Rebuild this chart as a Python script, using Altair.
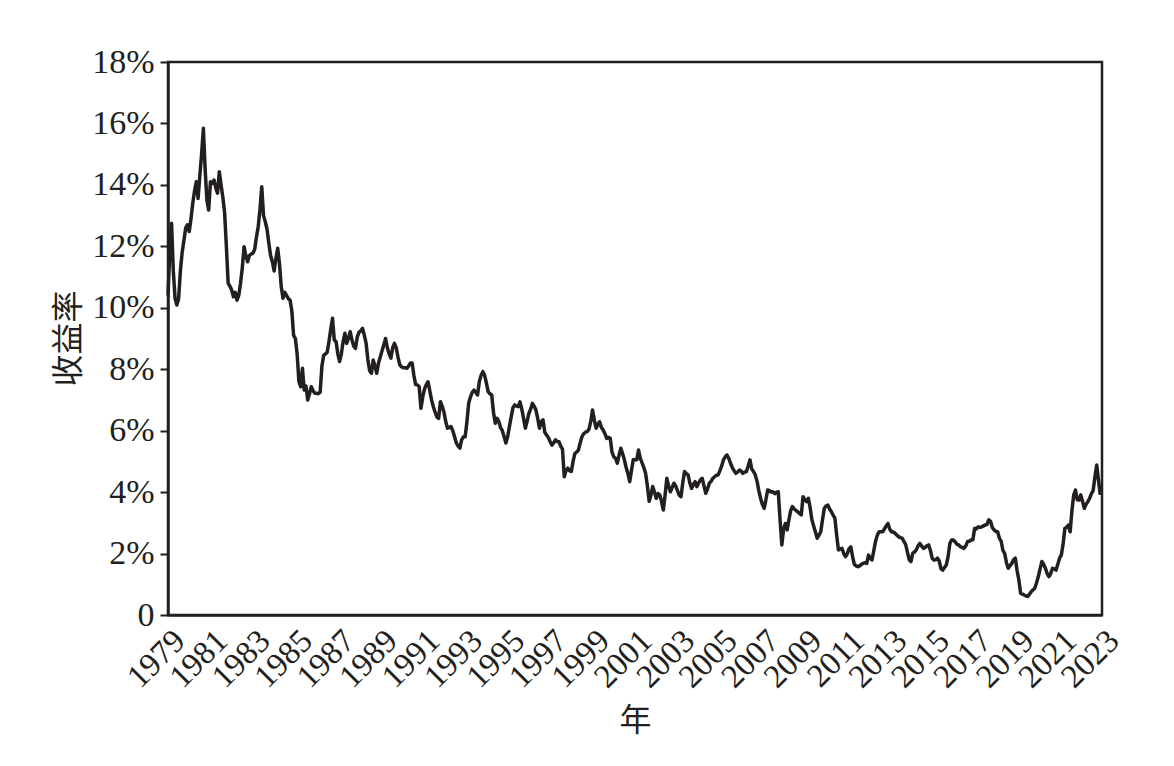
import altair as alt
import pandas as pd

# monthly yield values (%), 4 axis-years per list
yields_1979_1982 = [
    10.4, 11.8, 12.75, 11.2, 10.3, 10.09, 10.3, 11.2, 11.8, 12.2, 12.6, 12.7,
    12.48, 12.9, 13.4, 13.8, 14.1, 13.56, 14.3, 15.0, 15.84, 14.5, 13.5, 13.18,
    14.1, 14.05, 14.16, 13.9, 13.73, 14.43, 14.0, 13.6, 13.1, 12.0, 10.8, 10.7,
    10.58, 10.36, 10.5, 10.25, 10.4, 10.8, 11.3, 11.99, 11.7, 11.5, 11.7, 11.75,
]
yields_1983_1986 = [
    11.77, 11.9, 12.3, 12.64, 13.2, 13.94, 13.0, 12.8, 12.55, 12.1, 11.7, 11.5,
    11.2, 11.6, 11.94, 11.45, 10.7, 10.31, 10.5, 10.4, 10.3, 10.25, 9.9, 9.1,
    9.0, 8.5, 7.6, 7.43, 8.03, 7.32, 7.45, 7.0, 7.2, 7.43, 7.3, 7.22,
    7.22, 7.2, 7.25, 8.1, 8.45, 8.5, 8.55, 8.9, 9.3, 9.66, 8.95, 8.9,
]
yields_1987_1990 = [
    8.5, 8.25, 8.5, 8.9, 9.17, 8.84, 9.0, 9.22, 8.95, 8.75, 8.68, 9.05,
    9.2, 9.25, 9.33, 9.1, 8.84, 8.3, 7.95, 7.87, 8.3, 8.1, 7.87, 8.2,
    8.4, 8.6, 8.8, 9.0, 8.7, 8.5, 8.36, 8.7, 8.84, 8.7, 8.4, 8.15,
    8.08, 8.05, 8.05, 8.03, 8.1, 8.2, 8.2, 7.8, 7.5, 7.49, 7.43, 6.73,
]
yields_1991_1994 = [
    7.1, 7.35, 7.5, 7.59, 7.3, 7.0, 6.78, 6.6, 6.45, 6.4, 6.94, 6.8,
    6.6, 6.3, 6.08, 6.1, 6.13, 6.0, 5.8, 5.6, 5.5, 5.43, 5.7, 5.8,
    5.8, 6.3, 6.9, 7.1, 7.25, 7.32, 7.25, 7.16, 7.6, 7.8, 7.92, 7.8,
    7.55, 7.27, 7.2, 7.16, 6.6, 6.24, 6.4, 6.3, 6.1, 6.0, 5.8, 5.6,
]
yields_1995_1998 = [
    5.8, 6.13, 6.45, 6.75, 6.84, 6.8, 6.78, 6.94, 6.7, 6.4, 6.08, 6.3,
    6.56, 6.7, 6.89, 6.8, 6.67, 6.4, 6.08, 6.3, 6.35, 5.95, 5.86, 5.78,
    5.65, 5.53, 5.6, 5.7, 5.65, 5.64, 5.5, 5.4, 4.5, 4.7, 4.78, 4.7,
    4.67, 5.0, 5.26, 5.3, 5.37, 5.6, 5.8, 5.9, 5.95, 5.97, 6.05, 6.3,
]
yields_1999_2002 = [
    6.67, 6.35, 6.08, 6.2, 6.29, 6.1, 6.02, 5.9, 5.75, 5.78, 5.75, 5.3,
    5.15, 5.1, 4.94, 5.2, 5.43, 5.25, 5.05, 4.8, 4.6, 4.34, 4.7, 5.05,
    5.05, 5.05, 5.37, 5.1, 4.95, 4.8, 4.61, 4.2, 3.7, 3.9, 4.18, 4.0,
    3.8, 3.95, 3.91, 3.7, 3.42, 3.9, 4.45, 4.2, 4.01, 4.15, 4.29, 4.2,
]
yields_2003_2006 = [
    4.05, 3.9, 3.85, 4.3, 4.67, 4.6, 4.56, 4.3, 4.12, 4.25, 4.34, 4.18,
    4.3, 4.4, 4.45, 4.2, 3.96, 4.1, 4.29, 4.35, 4.45, 4.5, 4.55, 4.56,
    4.7, 4.85, 5.05, 5.15, 5.21, 5.1, 4.94, 4.8, 4.7, 4.61, 4.65, 4.72,
    4.68, 4.61, 4.65, 4.67, 4.85, 5.05, 4.75, 4.67, 4.56, 4.35, 4.05, 3.8,
]
yields_2007_2010 = [
    3.6, 3.47, 3.75, 4.07, 4.05, 4.0, 4.01, 3.95, 4.0, 4.01, 3.1, 2.28,
    2.8, 2.98, 2.77, 3.1, 3.4, 3.53, 3.45, 3.4, 3.36, 3.3, 3.26, 3.85,
    3.75, 3.69, 3.8, 3.5, 3.1, 2.9, 2.7, 2.5, 2.6, 2.71, 3.1, 3.47,
    3.55, 3.58, 3.45, 3.36, 3.25, 3.15, 2.6, 2.12, 2.15, 2.17, 2.0, 1.9,
]
yields_2011_2014 = [
    2.0, 2.15, 2.22, 1.9, 1.65, 1.6, 1.57, 1.6, 1.65, 1.68, 1.7, 1.68,
    1.95, 1.85, 1.79, 2.1, 2.4, 2.6, 2.71, 2.71, 2.71, 2.8, 2.9, 2.98,
    2.8, 2.71, 2.7, 2.66, 2.6, 2.55, 2.52, 2.5, 2.4, 2.3, 2.05, 1.8,
    1.74, 2.01, 2.05, 2.12, 2.25, 2.33, 2.25, 2.17, 2.2, 2.25, 2.28, 2.1,
]
yields_2015_2018 = [
    1.85, 1.79, 1.8, 1.85, 1.75, 1.5, 1.46, 1.55, 1.63, 1.9, 2.33, 2.44,
    2.44, 2.38, 2.3, 2.28, 2.22, 2.2, 2.17, 2.25, 2.39, 2.4, 2.44, 2.45,
    2.82, 2.8, 2.87, 2.85, 2.87, 2.9, 2.93, 2.95, 3.1, 3.05, 2.85, 2.77,
    2.72, 2.71, 2.5, 2.4, 2.1, 2.0, 1.7, 1.52, 1.6, 1.68, 1.8, 1.85,
]
yields_2019_2022 = [
    1.45, 1.14, 0.71, 0.68, 0.65, 0.62, 0.6, 0.68, 0.76, 0.82, 0.87, 1.05,
    1.25, 1.5, 1.74, 1.65, 1.52, 1.35, 1.25, 1.35, 1.52, 1.5, 1.46, 1.65,
    1.85, 1.95, 2.3, 2.82, 2.85, 2.93, 2.71, 3.4, 3.9, 4.07, 3.75, 3.74,
    3.91, 3.7, 3.47, 3.6, 3.69, 3.8, 3.95, 4.05, 4.5, 4.88, 4.4, 3.91,
]

start_year = 1979
x_tick_years = list(range(1979, 2024, 2))
y_tick_values = [0, 2, 4, 6, 8, 10, 12, 14, 16, 18]

yields = (yields_1979_1982 + yields_1983_1986 + yields_1987_1990 + yields_1991_1994
          + yields_1995_1998 + yields_1999_2002 + yields_2003_2006 + yields_2007_2010
          + yields_2011_2014 + yields_2015_2018 + yields_2019_2022)
df = pd.DataFrame({
    "t": [start_year + i / 12 for i in range(len(yields))],
    "y": yields,
})

INK = "#231f20"
FONT = "Liberation Serif, Noto Sans CJK SC"

chart = alt.Chart(df).mark_line(color=INK, strokeWidth=3.5, strokeJoin="round").encode(
    x=alt.X(
        "t:Q",
        scale=alt.Scale(domain=[1979, 2023], nice=False, zero=False),
        axis=alt.Axis(
            values=x_tick_years, format="d", labelAngle=-45, labelAlign="right",
            labelBaseline="top", labelPadding=9, labelOverlap=False, labelBound=False,
            labelFlush=False, labelFontSize=33, ticks=False, grid=False, title="年",
            titleX=467, titleY=105, titleAlign="center", titleBaseline="middle",
        ),
    ),
    y=alt.Y(
        "y:Q",
        scale=alt.Scale(domain=[0, 18], nice=False),
        axis=alt.Axis(
            values=y_tick_values,
            labelExpr="datum.value == 0 ? '0' : datum.value + '%'",
            tickSize=8, tickWidth=2, labelPadding=6, labelFontSize=34, grid=False,
            title="收益率", titleAngle=-90, titleX=-100, titleY=276, titleAlign="center",
            titleBaseline="middle", labelOverlap=False, labelFlush=False,
        ),
    ),
).properties(
    width=934, height=553,
    autosize="none",
    padding={"left": 160, "top": 54, "right": 40, "bottom": 150},
).configure_view(
    stroke=INK, strokeWidth=2.5,
).configure_axis(
    domainColor=INK, domainWidth=2.5, tickColor=INK,
    labelFont=FONT, labelColor=INK,
    titleFont=FONT, titleFontSize=32, titleColor=INK, titleFontWeight="normal",
)

chart.save("out.html", embed_options={"renderer": "svg", "actions": False})
